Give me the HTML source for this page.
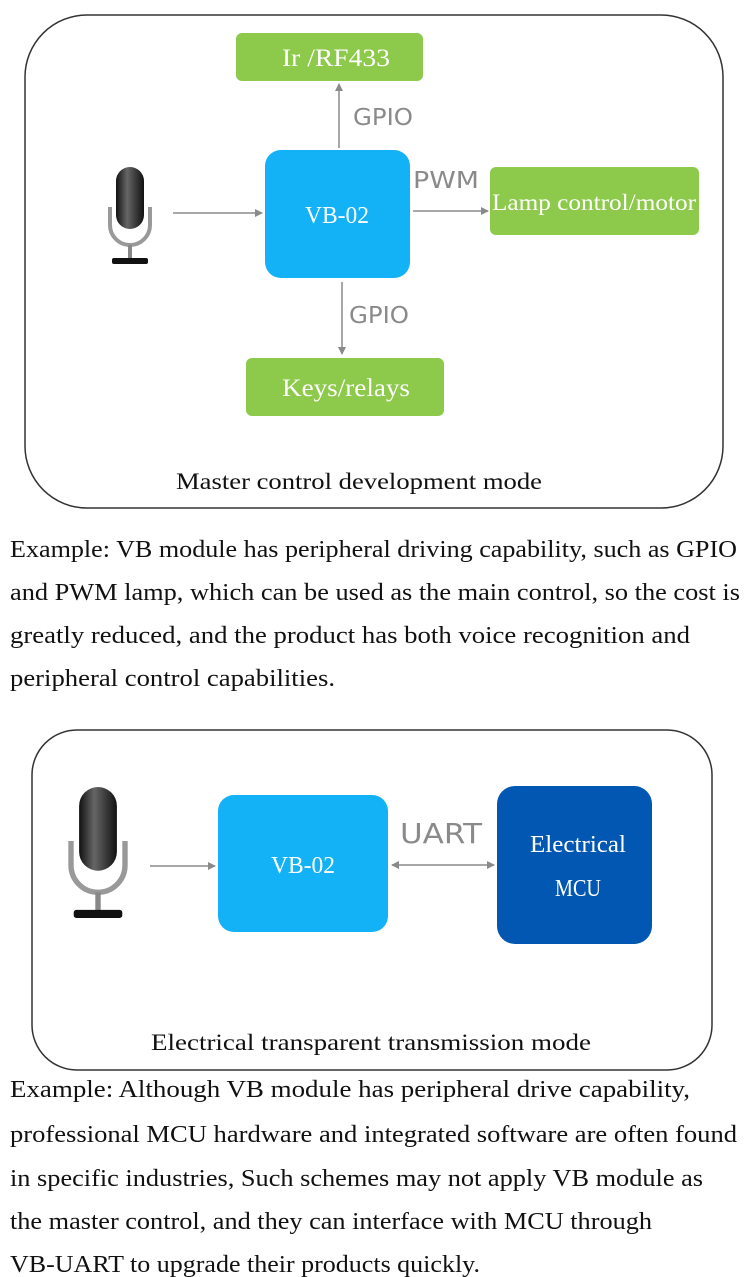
<!DOCTYPE html>
<html><head><meta charset="utf-8"><style>html,body{margin:0;padding:0;background:#fff}svg{display:block}</style></head>
<body>
<svg width="750" height="1277" viewBox="0 0 750 1277" xmlns="http://www.w3.org/2000/svg" font-family="Liberation Serif, serif">
<defs>
<marker id="a" markerWidth="8" markerHeight="8" refX="7" refY="4" orient="auto" markerUnits="userSpaceOnUse"><path d="M0,0 L8,4 L0,8 Z" fill="#8a8a8a"/></marker>
<marker id="b" markerWidth="8" markerHeight="8" refX="1" refY="4" orient="auto" markerUnits="userSpaceOnUse"><path d="M8,0 L0,4 L8,8 Z" fill="#8a8a8a"/></marker>
<linearGradient id="m" x1="0" x2="1"><stop offset="0" stop-color="#111"/><stop offset="0.4" stop-color="#666"/><stop offset="1" stop-color="#111"/></linearGradient>
<g id="mic">
<rect x="-14" y="0" width="28" height="62" rx="14" fill="url(#m)"/>
<path d="M-20,40 v18 a20,20 0 0 0 40,0 v-18" fill="none" stroke="#999" stroke-width="4"/>
<rect x="-2" y="78" width="4" height="14" fill="#888"/>
<rect x="-18" y="91" width="36" height="6" rx="2" fill="#111"/>
</g>
</defs>
<rect x="25" y="15" width="698" height="493" rx="62" fill="none" stroke="#333" stroke-width="1.5"/>
<use href="#mic" x="130" y="167"/>
<rect x="236" y="33" width="187" height="48" rx="6" fill="#8dc94a"/>
<text x="336" y="66" font-size="25" fill="#fff" text-anchor="middle" textLength="108" lengthAdjust="spacingAndGlyphs">Ir /RF433</text>
<rect x="265" y="150" width="145" height="128" rx="16" fill="#13b1f5"/>
<text x="337" y="223" font-size="24" fill="#fff" text-anchor="middle" textLength="64" lengthAdjust="spacingAndGlyphs">VB-02</text>
<rect x="490" y="167" width="209" height="68" rx="6" fill="#8dc94a"/>
<text x="594" y="210" font-size="23" fill="#fff" text-anchor="middle" textLength="204" lengthAdjust="spacingAndGlyphs">Lamp control/motor</text>
<rect x="246" y="358" width="198" height="58" rx="6" fill="#8dc94a"/>
<text x="346" y="396" font-size="25" fill="#fff" text-anchor="middle" textLength="128" lengthAdjust="spacingAndGlyphs">Keys/relays</text>
<g stroke="#8a8a8a" stroke-width="1.5" fill="none">
<line x1="173" y1="213" x2="262" y2="213" marker-end="url(#a)"/>
<line x1="339" y1="148" x2="339" y2="84" marker-end="url(#a)"/>
<line x1="413" y1="211" x2="488" y2="211" marker-end="url(#a)"/>
<line x1="342" y1="282" x2="342" y2="354" marker-end="url(#a)"/>
<line x1="150" y1="866" x2="215" y2="866" marker-end="url(#a)"/>
<line x1="392" y1="865" x2="494" y2="865" marker-start="url(#b)" marker-end="url(#a)"/>
</g>
<g font-family="DejaVu Sans, Liberation Sans, sans-serif" fill="#8a8a8a">
<text x="353" y="125" font-size="23" textLength="60" lengthAdjust="spacingAndGlyphs">GPIO</text>
<text x="413" y="188" font-size="23" textLength="66" lengthAdjust="spacingAndGlyphs">PWM</text>
<text x="349" y="323" font-size="23" textLength="60" lengthAdjust="spacingAndGlyphs">GPIO</text>
<text x="400" y="843" font-size="28" textLength="82" lengthAdjust="spacingAndGlyphs">UART</text>
</g>
<text x="359" y="489" font-size="23" text-anchor="middle" fill="#111" textLength="366" lengthAdjust="spacingAndGlyphs">Master control development mode</text>
<g font-size="24" fill="#111">
<text x="10" y="557" textLength="727" lengthAdjust="spacingAndGlyphs">Example: VB module has peripheral driving capability, such as GPIO</text>
<text x="10" y="600" textLength="730" lengthAdjust="spacingAndGlyphs">and PWM lamp, which can be used as the main control, so the cost is</text>
<text x="10" y="643" textLength="680" lengthAdjust="spacingAndGlyphs">greatly reduced, and the product has both voice recognition and</text>
<text x="10" y="686" textLength="325" lengthAdjust="spacingAndGlyphs">peripheral control capabilities.</text>
</g>
<rect x="32" y="730" width="680" height="340" rx="45" fill="none" stroke="#333" stroke-width="1.5"/>
<use href="#mic" x="98" y="787" transform="translate(98 787) scale(1.35) translate(-98 -787)"/>
<rect x="218" y="795" width="170" height="137" rx="16" fill="#13b1f5"/>
<text x="303" y="873" font-size="24" fill="#fff" text-anchor="middle" textLength="64" lengthAdjust="spacingAndGlyphs">VB-02</text>
<rect x="497" y="786" width="155" height="158" rx="18" fill="#0157b1"/>
<text x="578" y="852" font-size="24" fill="#fff" text-anchor="middle" textLength="96" lengthAdjust="spacingAndGlyphs">Electrical</text>
<text x="578" y="896" font-size="24" fill="#fff" text-anchor="middle" textLength="46" lengthAdjust="spacingAndGlyphs">MCU</text>
<text x="371" y="1050" font-size="23" text-anchor="middle" fill="#111" textLength="440" lengthAdjust="spacingAndGlyphs">Electrical transparent transmission mode</text>
<g font-size="24" fill="#111">
<text x="10" y="1097" textLength="680" lengthAdjust="spacingAndGlyphs">Example: Although VB module has peripheral drive capability,</text>
<text x="10" y="1142" textLength="727" lengthAdjust="spacingAndGlyphs">professional MCU hardware and integrated software are often found</text>
<text x="10" y="1186" textLength="693" lengthAdjust="spacingAndGlyphs">in specific industries, Such schemes may not apply VB module as</text>
<text x="10" y="1229" textLength="642" lengthAdjust="spacingAndGlyphs">the master control, and they can interface with MCU through</text>
<text x="10" y="1272" textLength="470" lengthAdjust="spacingAndGlyphs">VB-UART to upgrade their products quickly.</text>
</g>
</svg>
</body></html>
